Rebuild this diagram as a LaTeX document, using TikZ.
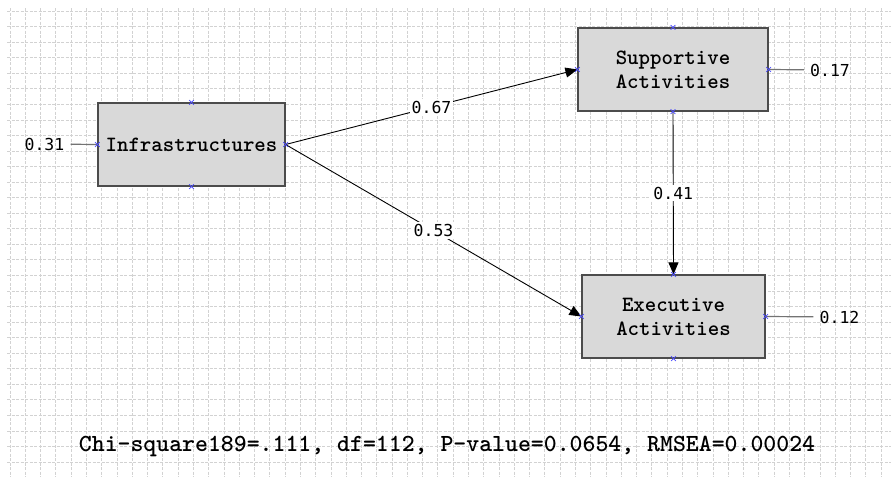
\documentclass[tikz,border=0pt]{standalone}
\usepackage{fontspec}
\usetikzlibrary{arrows.meta,shapes.misc}
\newfontfamily\valfont{DejaVu Sans Mono}

\begin{document}
\begin{tikzpicture}[x=1pt, y=-1pt,
		gridline/.style={gray!35, line width=0.7pt, dash pattern=on 3pt off 1.5pt},
		var/.style={draw=black!70, line width=1.2pt, fill=gray!30, minimum height=83pt,
			align=center, font=\ttfamily\bfseries\fontsize{21.8}{24}\selectfont},
		effect/.style={black, line width=0.9pt, -{Triangle[length=12pt, width=10pt]}},
		coef/.style={fill=white, inner sep=2pt, font=\valfont\fontsize{16.5}{18}\selectfont},
		err/.style={inner sep=6pt, font=\valfont\fontsize{16.5}{18}\selectfont},
		errline/.style={black!55, line width=1.2pt},
		port/.style={cross out, draw=blue!70, minimum size=4pt, inner sep=0pt, line width=0.7pt}]
	\useasboundingbox (0, 0) rectangle (891, 477);
	\fill[white] (0, 0) rectangle (891, 477);
	\foreach \i in {0, ..., 57}
		\draw[gridline] (10+15.28*\i, 8) -- (10+15.28*\i, 477);
	\foreach \j in {0, ..., 29}
		\draw[gridline] (7, 11+15.55*\j) -- (891, 11+15.55*\j);

	\node[var, minimum width=187pt] (infra) at (191.5, 144.5) {Infrastructures};
	\node[var, minimum width=190pt] (supp) at (673, 69.5) {Supportive\\Activities};
	\node[var, minimum width=183pt] (exec) at (673.5, 316.5) {Executive\\Activities};

	\draw[effect] (infra.east) -- node[coef] {0.67} (supp.west);
	\draw[effect] (infra.east) -- node[coef] {0.53} (exec.west);
	\draw[effect] (supp.south) -- node[coef] {0.41} (exec.north);

	\node[err] (e1) at (44.5, 144) {0.31};
	\node[err] (e2) at (830, 70) {0.17};
	\node[err] (e3) at (839.5, 317) {0.12};
	\draw[errline] (e1) -- (infra.west);
	\draw[errline] (e2) -- (supp.east);
	\draw[errline] (e3) -- (exec.east);

	\foreach \n in {infra, supp, exec}
		\foreach \a in {north, south, east, west}
			\node[port] (\n-\a) at (\n.\a) {};

	\node[font=\ttfamily\bfseries\fontsize{24.6}{28}\selectfont] (fit) at (447, 446)
		{Chi-square189=.111, df=112, P-value=0.0654, RMSEA=0.00024};
\end{tikzpicture}
\end{document}
